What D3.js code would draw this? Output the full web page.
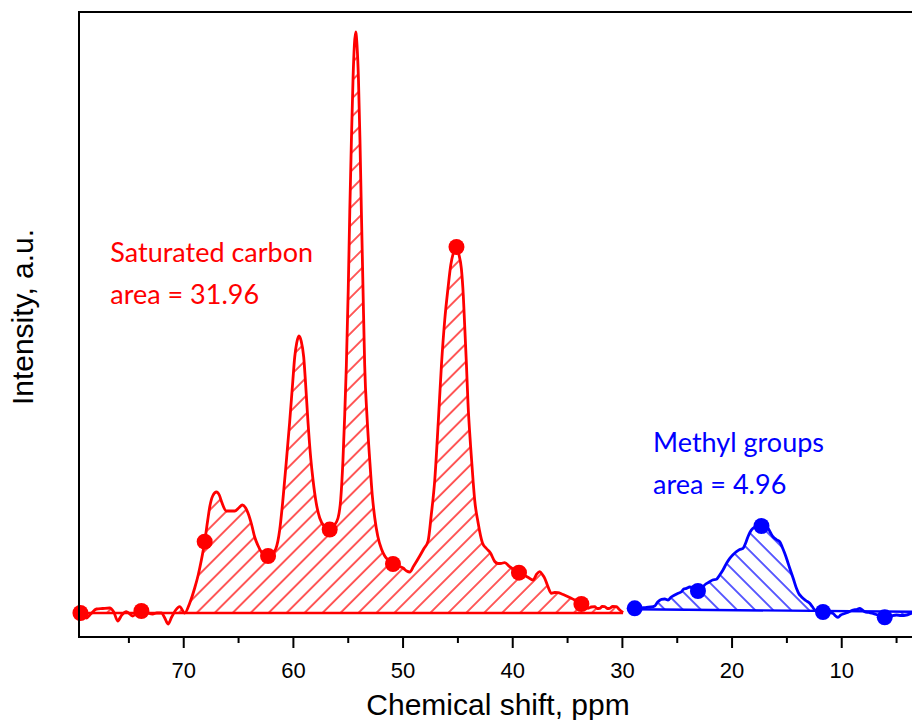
<!DOCTYPE html>
<html>
<head>
<meta charset="utf-8">
<script src="https://cdn.jsdelivr.net/npm/d3@7"></script>
<style>
  body { margin: 0; background: #fff; }
  svg { display: block; }
  .axis-title { font-family: "Liberation Sans", Arial, sans-serif; font-size: 30px; fill: #000; }
  .tick-label { font-family: "Liberation Sans", Arial, sans-serif; font-size: 22px; fill: #000; }
  .note { font-family: Lato, "Open Sans", sans-serif; font-size: 27px; }
</style>
</head>
<body>
<div id="chart"></div>
<script>
// saturated carbon region (red), chemical shift in ppm and intensity in a.u.
var redPpm = [79.53, 79.42, 78.87, 78.48, 77.96, 77.39, 76.75, 76.38, 76.02, 75.65,
  75.23, 74.65, 74.29, 73.86, 73.37, 72.83, 72.46, 72.03, 71.73, 71.43,
  71.10, 70.73, 70.37, 69.91, 69.45, 69.00, 68.68, 68.39, 68.09, 67.81,
  67.63, 67.36, 67.02, 66.76, 66.54, 66.11, 65.72, 65.35, 64.99, 64.65,
  64.35, 64.14, 63.80, 63.53, 63.25, 62.92, 62.61, 62.31, 61.98, 61.61,
  61.25, 60.95, 60.65, 60.34, 60.06, 59.88, 59.70, 59.49, 59.29, 59.06,
  58.88, 58.67, 58.42, 58.21, 57.92, 57.60, 57.14, 56.69, 56.32, 55.93,
  55.69, 55.48, 55.32, 55.17, 55.00, 54.86, 54.71, 54.56, 54.44, 54.32,
  54.20, 54.07, 53.93, 53.80, 53.65, 53.50, 53.27, 53.04, 52.81, 52.58,
  52.31, 51.97, 51.67, 51.37, 50.92, 50.49, 50.00, 49.67, 49.39, 49.03,
  48.48, 48.12, 47.72, 47.43, 47.11, 46.79, 46.50, 46.20, 45.90, 45.65,
  45.44, 45.13, 44.92, 44.68, 44.51, 44.38, 44.22, 44.08, 43.85, 43.62,
  43.47, 43.17, 42.76, 42.40, 42.03, 41.64, 41.34, 41.03, 40.73, 40.28,
  39.86, 39.43, 39.00, 38.61, 38.15, 37.81, 37.54, 37.27, 37.08, 36.81,
  36.47, 36.17, 35.87, 35.53, 35.10, 34.71, 34.35, 34.03, 33.74, 33.44,
  33.14, 32.84, 32.52, 32.30, 32.07, 31.84, 31.61, 31.38, 31.16, 30.88,
  30.55, 30.31, 29.94];
var redInt = [-1, -0.3, -5, -1, 4, 4.5, 5, 1, -8, -2,
  1.3, -3, 0, 2, 0.5, -1, 0, 0, -5, -11,
  -4, 3, 6.3, 0, 10, 25, 38, 53, 71.3, 93,
  106, 117, 121, 118, 111, 102, 102, 102, 105, 108,
  105, 100, 88, 76, 68, 61, 58, 57, 59, 64,
  83, 114, 151, 191, 231, 256, 270, 277, 272, 256,
  228, 191, 155, 133, 110, 95, 86, 83.4, 87, 95,
  113, 153, 198, 248, 323, 401, 473, 535, 568, 581,
  568, 535, 473, 401, 323, 248, 193, 153, 118, 95,
  77, 64, 57, 53, 49, 47, 45, 42, 41, 47,
  57, 64, 72, 98, 133, 191, 248, 293, 325, 348,
  359, 366, 359, 344, 318, 287, 248, 210, 168, 133,
  113, 91, 70, 64.5, 60, 51.5, 49.5, 49.7, 50.3, 46.3,
  43, 40.3, 38, 35.7, 33, 39, 41.3, 38, 34.7, 27,
  19.7, 20.5, 20.3, 19, 17, 15, 13, 11, 9, 6.5,
  4.7, 6, 6.3, 4.5, 4.7, 6.5, 6.3, 4.5, 4.7, 6.5,
  6.3, 3.7, 0.3];

// methyl group region (blue)
var bluePpm = [28.88, 28.33, 27.81, 27.42, 27.05, 26.78, 26.44, 26.14, 25.84, 25.55,
  25.23, 24.96, 24.62, 24.41, 24.16, 23.86, 23.59, 23.11, 22.77, 22.40,
  22.04, 21.77, 21.43, 21.13, 20.83, 20.49, 20.21, 19.94, 19.60, 19.30,
  19.00, 18.76, 18.55, 18.35, 18.09, 17.75, 17.32, 17.02, 16.72, 16.48,
  16.27, 15.97, 15.66, 15.43, 15.20, 14.97, 14.74, 14.42, 14.13, 13.92,
  13.68, 13.28, 12.92, 12.69, 12.46, 12.10, 11.71, 11.28, 10.80, 10.55,
  10.34, 10.09, 9.88, 9.46, 8.97, 8.63, 8.36, 8.13, 7.91, 7.54,
  7.15, 6.63, 6.08, 5.53, 5.01, 4.58, 4.10, 3.65, 3.07];
var blueInt = [4.7, 5, 5.7, 6, 7, 11, 13.7, 14, 13, 16,
  18, 19.5, 21.3, 24, 24.7, 26, 25, 22, 25, 29,
  31.3, 33, 33.7, 38, 43, 50, 54.7, 58, 61.3, 63.5,
  64.7, 70, 76.3, 81, 84.7, 86.5, 87, 86.5, 84.7, 80,
  76.3, 73.5, 71.3, 66, 59.7, 52.5, 44.7, 34.5, 24.7, 19.5,
  16.3, 12.5, 9.7, 6.5, 3, 1.5, 1, 0.5, -0.3, -3,
  -4.3, -2, -1, 0.5, 3, 3.5, 4.7, 3, 1.3, 0.5,
  -0.3, -2.5, -4.3, -3, -2, -2.5, -2, -0.3, 0.5];

// integration baselines
var redBasePpm = [79.53, 29.94];
var redBaseInt = [0, 0];
var blueBasePpm = [28.88, 3.07];
var blueBaseInt = [3.7, 1.2];

// symbols on the curves
var redMarkPpm = [79.42, 73.86, 68.09, 62.31, 56.69, 50.92, 45.13, 39.43, 33.74];
var redMarkInt = [0, 2, 71.3, 57, 83.4, 49, 366, 40.3, 9];
var blueMarkPpm = [28.88, 23.11, 17.32, 11.71, 6.08];
var blueMarkInt = [4.7, 22, 87, 1, -4.3];

var majorTicks = [70, 60, 50, 40, 30, 20, 10];
var minorTicks = [75, 65, 55, 45, 35, 25, 15, 5];

var notes = [
  {lines: ["Saturated carbon", "area = 31.96"], ppm: 76.7, int: 351, color: "#ff0000"},
  {lines: ["Methyl groups", "area = 4.96"], ppm: 27.2, int: 161, color: "#0000ff"}
];

var width = 912, height = 720;
var margin = {top: 12, left: 79, bottom: 83};

var svg = d3.select("#chart").append("svg")
    .attr("width", width)
    .attr("height", height);

var x = d3.scaleLinear().domain([79.55, 0]).range([79, 951.4]);
var y = d3.scaleLinear().domain([-24, 601]).range([height - margin.bottom, margin.top]);

//hatch patterns
var defs = svg.append("defs");
function hatch(id, color, angle) {
  var p = defs.append("pattern")
      .attr("id", id)
      .attr("patternUnits", "userSpaceOnUse")
      .attr("width", 12.7)
      .attr("height", 10)
      .attr("patternTransform", "rotate(" + angle + ")");
  p.append("line")
      .attr("x1", 1).attr("y1", -1)
      .attr("x2", 1).attr("y2", 11)
      .attr("stroke", color)
      .attr("stroke-width", 1.3);
}
hatch("hatchRed", "#ff0000", 45);
hatch("hatchBlue", "#0000ff", -45);

function zip(a, b) {
  return a.map(function (v, i) { return [v, b[i]]; });
}

var redData = zip(redPpm, redInt);
var blueData = zip(bluePpm, blueInt);

var redBase = d3.scaleLinear().domain(redBasePpm).range(redBaseInt);
var blueBase = d3.scaleLinear().domain(blueBasePpm).range(blueBaseInt);

var curve = d3.line()
    .x(d => x(d[0]))
    .y(d => y(d[1]))
    .curve(d3.curveMonotoneX);
var straight = d3.line()
    .x(d => x(d[0]))
    .y(d => y(d[1]));

function area(base) {
  return d3.area()
      .x(d => x(d[0]))
      .y0(d => y(base(d[0])))
      .y1(d => y(d[1]))
      .curve(d3.curveMonotoneX);
}

var plot = svg.append("g");

function region(data, basePpm, baseInt, base, color, pattern) {
  plot.append("path")
      .datum(data)
      .attr("d", area(base))
      .attr("fill", "url(#" + pattern + ")");
  plot.append("path")
      .datum(zip(basePpm, baseInt))
      .attr("d", straight)
      .attr("fill", "none")
      .attr("stroke", color)
      .attr("stroke-width", 2.4);
  plot.append("path")
      .datum(data)
      .attr("d", curve)
      .attr("fill", "none")
      .attr("stroke", color)
      .attr("stroke-width", 2.8)
      .attr("stroke-linejoin", "round");
}
region(redData, redBasePpm, redBaseInt, redBase, "#ff0000", "hatchRed");
region(blueData, blueBasePpm, blueBaseInt, blueBase, "#0000ff", "hatchBlue");

// symbols
function marks(cls, ppm, vals, color) {
  plot.selectAll("." + cls)
      .data(zip(ppm, vals))
      .enter()
      .append("circle")
      .attr("class", cls)
      .attr("cx", d => x(d[0]))
      .attr("cy", d => y(d[1]))
      .attr("r", 8)
      .attr("fill", color);
}
marks("redMark", redMarkPpm, redMarkInt, "#ff0000");
marks("blueMark", blueMarkPpm, blueMarkInt, "#0000ff");

// frame: left, top and bottom; the right side runs off the page
var y0 = height - margin.bottom;
svg.append("rect")
    .attr("x", margin.left)
    .attr("y", margin.top)
    .attr("width", 1000)
    .attr("height", y0 - margin.top)
    .attr("fill", "none")
    .attr("stroke", "#000")
    .attr("stroke-width", 2);

// x axis ticks
var axis = svg.append("g");
axis.selectAll(".major")
    .data(majorTicks)
    .enter()
    .append("line")
    .attr("x1", d => x(d)).attr("x2", d => x(d))
    .attr("y1", y0).attr("y2", y0 + 11)
    .attr("stroke", "#000")
    .attr("stroke-width", 2);
axis.selectAll(".minor")
    .data(minorTicks)
    .enter()
    .append("line")
    .attr("x1", d => x(d)).attr("x2", d => x(d))
    .attr("y1", y0).attr("y2", y0 + 6)
    .attr("stroke", "#000")
    .attr("stroke-width", 2);
axis.selectAll("text")
    .data(majorTicks)
    .enter()
    .append("text")
    .attr("class", "tick-label")
    .attr("x", d => x(d))
    .attr("y", y0 + 41)
    .attr("text-anchor", "middle")
    .text(d => d);

svg.append("text")
    .attr("class", "axis-title")
    .attr("x", 498)
    .attr("y", 715)
    .attr("text-anchor", "middle")
    .text("Chemical shift, ppm");

svg.append("text")
    .attr("class", "axis-title")
    .attr("transform", "translate(33,317) rotate(-90)")
    .attr("text-anchor", "middle")
    .text("Intensity, a.u.");

// annotations
notes.forEach(function (n) {
  var t = svg.append("text")
      .attr("class", "note")
      .attr("fill", n.color);
  n.lines.forEach(function (s, i) {
    t.append("tspan")
        .attr("x", x(n.ppm))
        .attr("y", y(n.int) + i * 42)
        .text(s);
  });
});
</script>
</body>
</html>
